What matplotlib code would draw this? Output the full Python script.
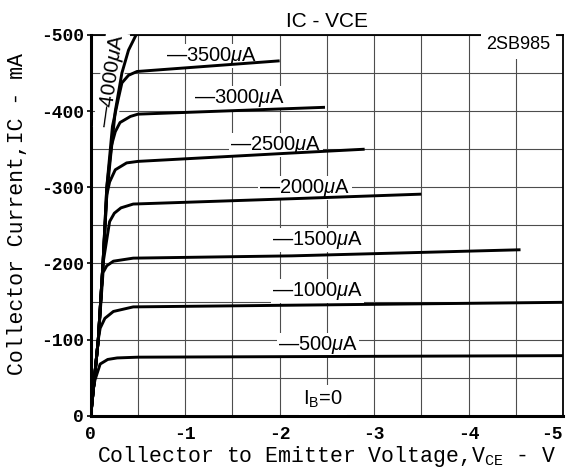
import matplotlib
matplotlib.use("Agg")
import matplotlib.pyplot as plt
from matplotlib.ticker import MultipleLocator

plt.rcParams['mathtext.fontset'] = 'custom'
plt.rcParams['mathtext.rm'] = 'Liberation Mono'
plt.rcParams['mathtext.it'] = 'Liberation Sans:italic'
plt.rcParams['mathtext.sf'] = 'Liberation Sans'

# IC - VCE curves of 2SB985 (V, mA)
vce_500 = [0, -0.02, -0.045, -0.1, -0.18, -0.28, -0.5, -5.0]
ic_500 = [0, -30, -47, -68, -74, -76, -77, -79]

vce_1000 = [0, -0.04, -0.08, -0.1, -0.15, -0.24, -0.45, -5.0]
ic_1000 = [0, -50, -100, -115, -128, -137, -143, -149]

vce_1500 = [0, -0.04, -0.08, -0.13, -0.17, -0.24, -0.45, -2.13, -4.55]
ic_1500 = [0, -50, -100, -188, -197, -203, -207, -210, -218]

vce_2000 = [0, -0.04, -0.08, -0.13, -0.2, -0.25, -0.32, -0.45, -2.13, -3.5]
ic_2000 = [0, -50, -100, -200, -255, -266, -273, -278, -285, -291]

vce_2500 = [0, -0.04, -0.08, -0.13, -0.17, -0.2, -0.26, -0.38, -0.5, -2.13, -2.9]
ic_2500 = [0, -50, -100, -200, -290, -307, -323, -332, -334, -345, -350]

vce_3000 = [0, -0.04, -0.08, -0.13, -0.17, -0.22, -0.26, -0.31, -0.42, -0.5, -2.48]
ic_3000 = [0, -50, -100, -200, -300, -355, -373, -385, -393, -396, -405]

vce_3500 = [0, -0.04, -0.08, -0.13, -0.17, -0.23, -0.29, -0.33, -0.4, -0.49, -2.0]
ic_3500 = [0, -50, -100, -200, -300, -380, -415, -437, -447, -452, -466]

vce_4000 = [0, -0.04, -0.08, -0.13, -0.17, -0.21, -0.26, -0.33, -0.40, -0.48]
ic_4000 = [0, -50, -100, -200, -290, -340, -400, -450, -480, -500]

curves = [(vce_500, ic_500), (vce_1000, ic_1000), (vce_1500, ic_1500),
          (vce_2000, ic_2000), (vce_2500, ic_2500), (vce_3000, ic_3000),
          (vce_3500, ic_3500), (vce_4000, ic_4000)]

ib_labels = ["—500$\\mu$A", "—1000$\\mu$A", "—1500$\\mu$A", "—2000$\\mu$A",
             "—2500$\\mu$A", "—3000$\\mu$A", "—3500$\\mu$A"]
ib_label_x = [-2.41, -2.4, -2.4, -2.27, -1.96, -1.58, -1.28]
ib_label_y = [-93, -164, -231, -299, -356, -417, -472]

x_ticks = [0, -1, -2, -3, -4, -5]
x_ticklabels = ["0", "-1", "-2", "-3", "-4", "-5"]
y_ticks = [0, -100, -200, -300, -400, -500]
y_ticklabels = ["0", "-100", "-200", "-300", "-400", "-500"]

fig = plt.figure(figsize=(5.67, 4.72), dpi=100)
ax = fig.add_axes([0.160, 0.119, 0.833, 0.807])

for v, i in curves:
    ax.plot(v, i, color="black", lw=2.1, solid_capstyle="butt", zorder=4)

box = dict(boxstyle="square,pad=0.05", fc="white", ec="none")
for t, x, y in zip(ib_labels, ib_label_x, ib_label_y):
    ax.text(x, y, t, fontsize=14.5, family="Liberation Sans", ha="center",
            va="center", bbox=box, zorder=3)
ax.text(-0.22, -440, "—4000$\\mu$A", fontsize=15, family="Liberation Sans",
        ha="center", va="center", rotation=82, bbox=box, zorder=3)
ax.text(-2.46, -21, "I$_\\mathsf{B}$=0", fontsize=14.5, family="Liberation Sans",
        ha="center", va="center", bbox=dict(boxstyle="square,pad=0.2", fc="white", ec="none"), zorder=3)
ax.text(-4.53, -487, "2SB985", fontsize=13, family="Liberation Sans",
        ha="center", va="center", bbox=dict(boxstyle="square,pad=0.3", fc="white", ec="none"), zorder=3)

ax.set_xlim(0, -5)
ax.set_ylim(0, -500)
ax.set_xticks(x_ticks, x_ticklabels, family="Liberation Mono", fontweight="bold", fontsize=13)
ax.set_yticks(y_ticks, y_ticklabels, family="Liberation Mono", fontweight="bold", fontsize=13)
ax.xaxis.set_minor_locator(MultipleLocator(0.5))
ax.yaxis.set_minor_locator(MultipleLocator(50))
ax.get_xticklabels()[-1].set_horizontalalignment("right")

ax.grid(which="both", color="0.3", lw=0.8, zorder=1)
ax.set_axisbelow(True)
ax.tick_params(axis="x", which="both", length=0, pad=7)
ax.tick_params(axis="y", which="major", length=3, width=1.2, pad=2, direction="out")
ax.tick_params(axis="y", which="minor", length=0)

ax.spines["left"].set_linewidth(2.2)
ax.spines["bottom"].set_linewidth(2.2)
ax.spines["top"].set_linewidth(1.3)
ax.spines["right"].set_linewidth(1.3)

ax.set_xlabel("Collector to Emitter Voltage,V$_\\mathrm{CE}$ - V",
              family="Liberation Mono", fontsize=15.5, labelpad=1)
ax.set_ylabel("Collector Current,IC - mA",
              family="Liberation Mono", fontsize=15.5)
ax.yaxis.set_label_coords(-0.133, 0.53)
ax.set_title("IC - VCE", family="Liberation Sans", fontsize=15, pad=6)

fig.savefig("out.png", dpi=100)
